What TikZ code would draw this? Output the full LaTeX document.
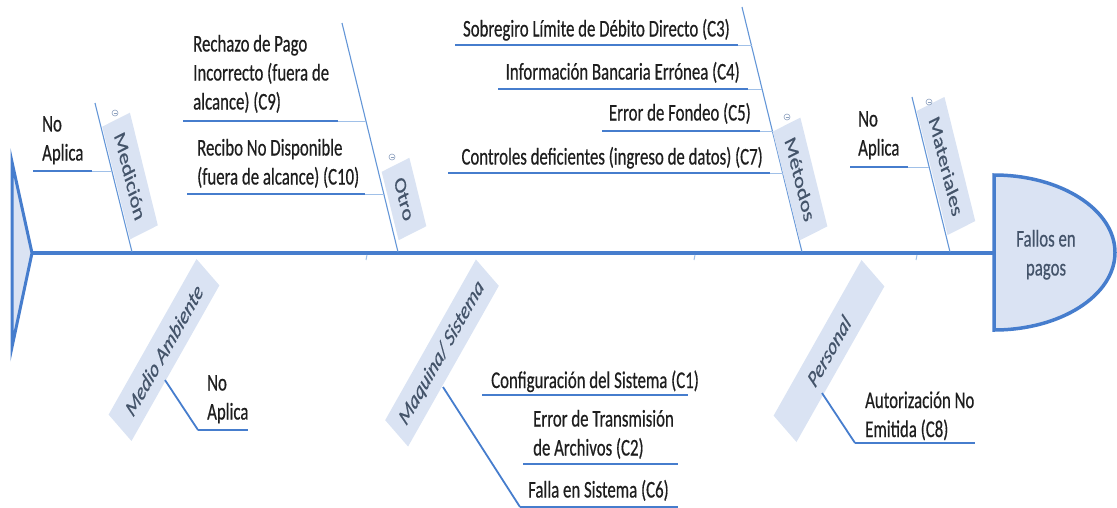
\documentclass[tikz,border=0pt]{standalone}
\usepackage{fontspec}
\setmainfont{Carlito}[UprightFeatures={FakeBold=0.6},ItalicFeatures={FakeBold=0.6}]
\usepackage{graphicx}

\definecolor{fishblue}{RGB}{70,125,205}
\definecolor{boneblue}{RGB}{100,150,215}
\definecolor{twigblue}{RGB}{160,192,232}
\definecolor{boxfill}{RGB}{218,227,243}
\definecolor{ink}{RGB}{30,30,30}
\definecolor{slate}{RGB}{68,84,106}
\definecolor{iconc}{RGB}{140,160,190}

% narrow text, left-aligned block whose base is the last line
\newcommand{\sqz}[1]{\scalebox{0.7}[1]{#1}}
\newcommand{\lefttxt}[1]{\sqz{\begin{tabular}[b]{@{}l@{}}#1\end{tabular}}}
\newcommand{\centtxt}[1]{\sqz{\begin{tabular}[b]{@{}c@{}}#1\end{tabular}}}

\tikzset{
  spine/.style={line width=3.5pt, draw=fishblue},
  bone/.style={line width=1.1pt, draw=boneblue},
  twig/.style={line width=2.6pt, draw=fishblue},
  slanttwig/.style={line width=1.8pt, draw=fishblue},
  twigthin/.style={line width=1pt, draw=twigblue},
  catbox/.style={fill=boxfill, transform shape, minimum height=42pt,
    inner xsep=14pt, inner ysep=0pt, text=slate,
    font=\fontsize{24}{29}\selectfont},
  catlow/.style={catbox, minimum width=200pt,
    font=\fontsize{24}{29}\selectfont\itshape},
  lbl/.style={inner sep=0pt, text=ink, font=\fontsize{24}{29}\selectfont},
  icon/.style={circle, draw=iconc, line width=0.6pt, minimum size=6pt, inner sep=0pt,
    path picture={\draw[iconc,line width=0.6pt]
      ([xshift=-1.5pt]path picture bounding box.center) --
      ([xshift=1.5pt]path picture bounding box.center);}},
}

\begin{document}
\begin{tikzpicture}[x=1pt,y=1pt]
\useasboundingbox (0,0) rectangle (1117,-507);

% ---------- tail ----------
\coordinate (tailtop) at (12,-162);
\coordinate (tip) at (32,-253);
\coordinate (tailbot) at (12,-347);
\filldraw[fill=boxfill, draw=fishblue, line width=3pt, line join=miter]
  (tailtop) -- (tip) -- (tailbot) -- cycle;

% ---------- head ----------
\filldraw[fill=boxfill, draw=fishblue, line width=3.5pt]
  (994,-175) arc[start angle=90, end angle=-90, x radius=121, y radius=77.5] -- cycle;
\coordinate (neck) at (994,-253);
\node[lbl, text=slate, anchor=base] (head) at (1046,-275.5) {\centtxt{Fallos en\\pagos}};

% ---------- spine ----------
\draw[spine] (tip) -- (neck);
\foreach \x in {367,695,917} \draw[twigthin] (\x,-255) -- (\x-1,-260);

% ---------- upper bones ----------
\coordinate (medT) at (95,-103);   \coordinate (medB) at (132,-252);
\coordinate (otrT) at (342,-23);   \coordinate (otrB) at (398,-252);
\coordinate (metT) at (742,-7);    \coordinate (metB) at (802,-252);
\coordinate (matT) at (912,-97);   \coordinate (matB) at (950,-252);
\draw[bone] (medT) -- (medB);
\draw[bone] (otrT) -- (otrB);
\draw[bone] (metT) -- (metB);
\draw[bone] (matT) -- (matB);

% twigs of the upper bones: thick underline, then a thin joint to the bone
\foreach \a/\b/\c/\y in {33/92/112/171, 183/338/366/121, 187/365/384/194,
    455/738/752/45, 498/748/762/89, 602/760/773/131, 448/770/783/173,
    850/908/929/167}{
  \coordinate (ua) at (\a,-\y); \coordinate (ub) at (\b,-\y); \coordinate (uc) at (\c,-\y);
  \draw[twigthin] (ub) -- (uc);
  \draw[twig] (ua) -- (ub);
}

% category boxes above the spine
\begin{scope}[shift={(130,-176)},xscale=0.7]
  \node[catbox,rotate=-70.5] (medicion) {Medición};
\end{scope}
\begin{scope}[shift={(404,-199)},xscale=0.7]
  \node[catbox,rotate=-70.5] (otro) {Otro};
\end{scope}
\begin{scope}[shift={(800,-179)},xscale=0.7]
  \node[catbox,rotate=-70.5] (metodos) {Métodos};
\end{scope}
\begin{scope}[shift={(946,-166)},xscale=0.7]
  \node[catbox,rotate=-70.5] (materiales) {Materiales};
\end{scope}
\node[icon] (i1) at (115,-113) {};
\node[icon] (i2) at (392,-157) {};
\node[icon] (i3) at (787,-117) {};
\node[icon] (i4) at (929,-102) {};

% labels above the spine
\node[lbl, anchor=base west] (na1) at (42,-160.5) {\lefttxt{No\\Aplica}};
\node[lbl, anchor=base west] (c9) at (193,-109.5) {\lefttxt{Rechazo de Pago\\Incorrecto (fuera de\\alcance) (C9)}};
\node[lbl, anchor=base west] (c10) at (197,-184.5) {\lefttxt{Recibo No Disponible\\(fuera de alcance) (C10)}};
\node[lbl, anchor=base east] (c3) at (730,-36.5) {\sqz{Sobregiro Límite de Débito Directo (C3)}};
\node[lbl, anchor=base east] (c4) at (740,-79.5) {\sqz{Información Bancaria Errónea (C4)}};
\node[lbl, anchor=base east] (c5) at (751,-120.5) {\sqz{Error de Fondeo (C5)}};
\node[lbl, anchor=base east] (c7) at (763,-164.5) {\sqz{Controles deficientes (ingreso de datos) (C7)}};
\node[lbl, anchor=base west] (na2) at (858,-155.5) {\lefttxt{No\\Aplica}};

% ---------- lower bones ----------
\begin{scope}[shift={(164,-350)},xscale=0.7]
  \node[catlow,rotate=51.1] (ambiente) {Medio Ambiente};
\end{scope}
\begin{scope}[shift={(442,-353)},xscale=0.7]
  \node[catlow,rotate=51.1] (maquina) {Maquina/ Sistema};
\end{scope}
\begin{scope}[shift={(829,-351)},xscale=0.7]
  \node[catlow,rotate=51.1] (personal) {Personal};
\end{scope}

% Medio Ambiente
\coordinate (amA) at (165,-380); \coordinate (amB) at (198,-430); \coordinate (amC) at (248,-430);
\draw[slanttwig] (amA) -- (amB);
\draw[twig] (amB) -- (amC);
\node[lbl, anchor=base west] (na3) at (207,-419.5) {\lefttxt{No\\Aplica}};

% Maquina / Sistema
\coordinate (maA) at (443,-387); \coordinate (maB) at (520,-507);
\coordinate (c6e) at (678,-507);
\coordinate (c1a) at (482,-395); \coordinate (c1b) at (688,-395);
\coordinate (c2a) at (523,-464); \coordinate (c2b) at (678,-464);
\draw[slanttwig] (maA) -- (maB);
\draw[twig] (maB) -- (c6e);
\draw[twig] (c1a) -- (c1b);
\draw[twig] (c2a) -- (c2b);
\node[lbl, anchor=base west] (c1) at (491,-388) {\sqz{Configuración del Sistema (C1)}};
\node[lbl, anchor=base west] (c2) at (533,-455.5) {\lefttxt{Error de Transmisión\\de Archivos (C2)}};
\node[lbl, anchor=base west] (c6) at (528,-497.5) {\sqz{Falla en Sistema (C6)}};

% Personal
\coordinate (peA) at (822,-393); \coordinate (peB) at (855,-443); \coordinate (peC) at (975,-443);
\draw[slanttwig] (peA) -- (peB);
\draw[twig] (peB) -- (peC);
\node[lbl, anchor=base west] (c8) at (865,-437) {\lefttxt{Autorización No\\Emitida (C8)}};

\end{tikzpicture}
\end{document}
